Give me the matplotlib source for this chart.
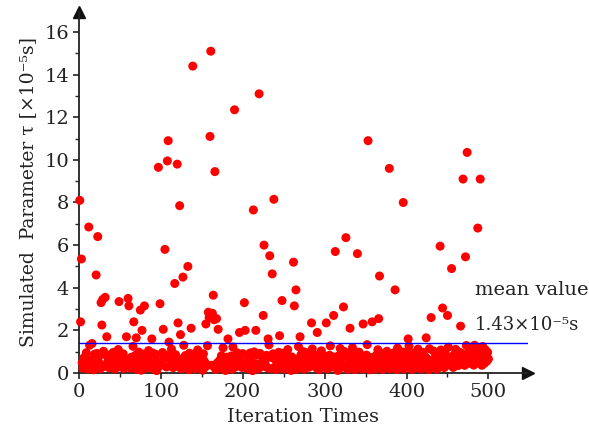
import matplotlib
matplotlib.use("Agg")
import matplotlib.pyplot as plt
import numpy as np

plt.rcParams['font.family'] = ['DejaVu Serif']

# ---- data ----
iterations = list(range(1, 501))

tau_base = [
    0.35,0.82,1.15,0.48,0.22,0.71,0.55,0.30,0.95,0.62,0.18,0.78,1.30,0.33,0.52,1.38,0.66,0.15,0.88,0.41,
    0.58,0.92,0.27,0.75,0.45,0.20,0.68,0.39,0.60,1.02,0.31,0.57,0.84,0.12,0.50,0.73,0.24,0.86,0.43,0.63,
    0.29,0.97,0.47,0.19,0.69,0.80,0.37,1.10,0.14,0.61,0.28,0.77,0.49,0.90,0.21,0.66,0.40,0.85,0.56,0.32,
    0.93,0.46,0.23,0.74,0.38,1.25,0.59,0.26,0.83,0.44,0.17,0.64,0.98,0.36,0.54,0.13,0.79,0.30,0.89,0.51,
    0.67,0.22,0.81,0.42,1.05,0.58,0.27,0.72,0.48,0.94,0.19,0.65,0.37,0.87,0.11,0.55,1.20,0.31,0.76,0.46,
    0.39,0.96,0.21,0.68,0.50,0.84,0.28,0.57,0.91,0.18,0.73,0.41,1.12,0.47,0.25,0.63,0.12,0.86,0.53,0.35,
    0.77,0.29,0.99,0.45,0.20,0.66,1.35,0.38,0.58,0.82,0.26,0.49,0.74,0.16,0.93,0.55,0.34,0.62,0.24,0.88,
    0.44,0.19,0.71,0.52,1.08,0.30,0.64,0.37,0.83,0.47,0.13,0.90,0.56,0.27,0.75,0.40,1.28,0.21,0.67,0.45,
    0.85,0.36,0.58,0.97,0.26,0.69,0.17,0.78,0.48,0.92,0.33,0.60,0.22,0.81,0.29,1.18,0.65,0.43,0.12,0.74,
    0.54,0.89,0.25,0.66,0.39,0.80,0.18,1.22,0.47,0.73,0.28,0.56,0.95,0.35,0.63,0.16,0.84,0.44,0.26,0.91,
    0.37,0.64,1.14,0.27,0.55,0.20,0.82,0.46,0.94,0.38,0.72,0.11,0.58,0.99,0.29,0.67,0.43,0.85,0.19,0.53,
    0.92,0.28,0.47,0.76,0.18,1.16,0.57,0.36,0.83,0.25,0.65,1.32,0.44,0.20,0.73,0.34,0.90,0.52,0.27,0.62,
    0.16,0.86,0.45,0.97,0.35,0.68,0.24,0.77,0.54,0.93,0.19,0.48,0.81,0.37,1.10,0.26,0.64,0.42,0.12,0.75,
    0.55,0.28,0.91,0.44,0.74,0.17,0.63,1.24,0.36,0.57,0.85,0.25,0.46,1.00,0.18,0.72,0.39,0.66,0.95,0.45,
    0.27,0.77,0.43,0.20,1.13,0.56,0.34,0.84,0.61,0.24,0.92,0.48,0.16,0.73,0.54,1.04,0.37,0.29,0.82,0.64,
    0.46,0.94,0.19,0.65,0.38,0.83,1.27,0.27,0.55,0.76,0.18,0.47,0.90,0.35,0.66,0.12,0.80,0.53,1.15,0.26,
    0.74,0.36,0.57,1.01,0.28,0.45,0.86,0.17,0.64,0.93,0.39,0.55,0.24,1.19,0.72,0.44,0.16,0.82,0.35,0.63,
    0.26,0.98,0.56,0.37,0.75,0.19,0.91,0.46,0.67,0.27,0.84,1.33,0.38,0.58,0.15,0.73,0.47,0.95,0.28,0.64,
    0.54,0.18,0.83,0.44,1.09,0.26,0.65,0.36,0.92,0.55,0.17,0.76,0.45,0.87,0.25,1.02,0.63,0.37,0.56,0.20,
    0.86,0.46,0.27,0.94,0.66,0.35,0.74,0.16,1.17,0.55,0.28,0.83,0.44,0.64,0.99,0.36,0.18,0.77,0.53,0.92,
    0.37,0.65,1.26,0.26,0.54,0.85,0.17,0.46,0.93,0.74,0.36,0.57,0.25,1.12,0.66,0.44,0.82,0.19,0.55,0.97,
    0.45,0.26,0.75,0.91,0.35,0.64,0.16,1.14,0.56,0.83,0.27,0.46,1.03,0.37,0.73,0.54,0.18,0.94,0.63,0.28,
    0.76,1.08,0.36,0.55,0.84,0.25,0.95,0.45,0.65,0.17,1.21,0.56,0.37,0.74,0.98,0.46,0.26,0.85,0.64,1.11,
    0.55,0.86,0.35,0.99,0.66,0.27,0.93,0.46,1.16,0.75,0.36,0.57,1.29,0.28,0.84,0.63,1.04,0.45,0.76,0.54,
    0.92,0.37,0.65,1.13,0.46,0.83,0.27,1.01,0.56,0.74,0.95,0.36,1.24,0.64,0.45,1.10,0.82,0.55,0.97,0.66,
]

outlier_iter = [1, 2, 3, 12, 21, 23, 27, 28, 29, 32, 34, 49, 58, 60, 61, 67, 70, 75, 77, 80,
                89, 97, 99, 103, 105, 108, 109, 110, 117, 120, 121, 123, 124, 127, 128, 133,
                137, 139, 155, 158, 159, 160, 161, 163, 164, 165, 166, 168, 170, 182, 190,
                196, 202, 203, 213, 216, 220, 225, 226, 231, 233, 236, 238, 245, 248, 262,
                263, 265, 270, 284, 291, 302, 311, 313, 323, 326, 331, 340, 347, 353, 358,
                366, 367, 379, 386, 396, 402, 424, 430, 441, 444, 450, 455, 466, 469, 472,
                474, 483, 487, 490]
outlier_tau = [8.1, 2.4, 5.35, 6.85, 4.6, 6.4, 3.3, 2.25, 3.45, 3.55, 1.7, 3.35, 1.7, 3.5, 3.15,
               2.4, 1.65, 2.95, 2.0, 3.15, 1.6, 9.65, 3.25, 2.05, 5.8, 9.95, 10.9, 1.45, 4.2,
               9.8, 2.35, 7.85, 1.8, 4.5, 1.3, 5.0, 2.1, 14.4, 2.3, 2.85, 2.6, 11.1, 15.1, 2.8,
               3.65, 2.5, 9.45, 2.55, 2.05, 1.6, 12.35, 1.9, 3.3, 2.0, 7.65, 2.0, 13.1, 2.7,
               6.0, 1.6, 5.5, 4.65, 8.15, 1.75, 3.4, 5.2, 3.15, 3.9, 1.7, 2.35, 1.9, 2.35, 2.7,
               5.7, 3.1, 6.35, 2.1, 5.6, 2.3, 10.9, 2.4, 2.55, 4.55, 9.6, 3.9, 8.0, 1.6, 1.65,
               2.6, 5.95, 3.05, 2.7, 4.9, 2.2, 9.1, 5.45, 10.35, 1.3, 6.8, 9.1]

mean_value = 1.43
x_ticks = [0, 100, 200, 300, 400, 500]
y_ticks = [0, 2, 4, 6, 8, 10, 12, 14, 16]

tau = list(tau_base)
for it, v in zip(outlier_iter, outlier_tau):
    tau[it - 1] = v

# ---- figure ----
fig = plt.figure(figsize=(5.89, 4.34), dpi=100)
ax = fig.add_axes([0.134, 0.1406, 0.762, 0.8318])

ax.scatter(iterations, tau, s=42, color='#ff0000', edgecolors='none', zorder=3, clip_on=False)
ax.plot([0, 548], [mean_value, mean_value], color='#0000ff', lw=1.0, zorder=4)

ax.set_xlim(0, 548)
ax.set_ylim(0, 16.94)
ax.spines['top'].set_visible(False)
ax.spines['right'].set_visible(False)
for sp in ('left', 'bottom'):
    ax.spines[sp].set_linewidth(1.3)
    ax.spines[sp].set_color('#222222')

ax.set_xticks(x_ticks)
ax.set_yticks(y_ticks)
ax.set_xticks(np.arange(50, 501, 100), minor=True)
ax.set_yticks(np.arange(1, 16, 2), minor=True)
ax.tick_params(axis='both', which='major', direction='out', length=4, width=1.2,
               labelsize=14, colors='#222222', labelcolor='#222222', pad=3)
ax.tick_params(axis='both', which='minor', direction='out', length=3, width=1.0, colors='#222222')

# arrows
ax.plot(1, 0, '>', color='#111111', markersize=8, transform=ax.get_yaxis_transform(), clip_on=False)
ax.plot(0, 1, '^', color='#111111', markersize=8, transform=ax.get_xaxis_transform(), clip_on=False)

ax.set_xlabel('Iteration Times', fontsize=14, color='#222222', labelpad=5)
ax.set_ylabel('Simulated  Parameter τ [×10⁻⁵s]', fontsize=13.5, color='#222222', labelpad=5)

ax.text(483, 3.9, 'mean value', fontsize=14, color='#222222', va='center', ha='left')
ax.text(483, 2.25, '1.43×10⁻⁵s', fontsize=13, color='#222222', va='center', ha='left')

fig.savefig('out.png', dpi=100)
